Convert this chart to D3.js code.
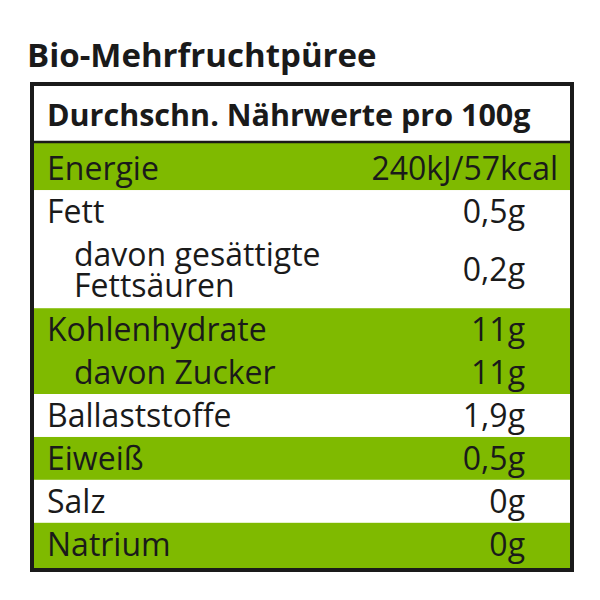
<!DOCTYPE html>
<meta charset="utf-8">
<script src="https://unpkg.com/d3@7/dist/d3.min.js"></script>
<body style="margin:0;background:#fff">
<script>
const title = 'Bio-Mehrfruchtpüree';
const header = 'Durchschn. Nährwerte pro 100g';
// each row: label lines, value, indent, green fill
const labels = [['Energie'], ['Fett'], ['davon gesättigte', 'Fettsäuren'], ['Kohlenhydrate'], ['davon Zucker'], ['Ballaststoffe'], ['Eiweiß'], ['Salz'], ['Natrium']];
const values = ['240kJ/57kcal', '0,5g', '0,2g', '11g', '11g', '1,9g', '0,5g', '0g', '0g'];
const indents = [0, 0, 1, 0, 1, 0, 0, 0, 0];
const groups = [0, 1, 1, 2, 2, 3, 4, 5, 6];
const green = [true, false, false, true, true, false, true, false, true];

const W = 600, H = 600;
const svg = d3.select('body').append('svg').attr('width', W).attr('height', H)
  .style('font-family', 'Open Sans, Noto Sans, sans-serif');

const boxL = 32, boxR = 572, boxT = 84, headBottom = 143, boxB = 570;

// cumulative line units
const units = labels.map(l => l.length === 2 ? 1.75 : 1);
const starts = [];
units.reduce((a, u, i) => (starts[i] = a, a + u), 0);
const total = d3.sum(units) + 0.2;
const y = d3.scaleLinear().domain([0, total]).range([headBottom, boxB]);

svg.append('text').attr('x', 27).attr('y', 67).text(title)
  .attr('font-size', 33).attr('font-weight', 700).attr('fill', '#1a1a1a');

// group backgrounds
const gIdx = d3.groups(d3.range(labels.length), i => groups[i]);
gIdx.forEach(([g, idx], k) => {
  const i0 = idx[0], i1 = idx[idx.length - 1];
  const y0 = k === 0 ? headBottom : y(starts[i0] + 0.1);
  const y1 = k === gIdx.length - 1 ? boxB : y(starts[i1] + units[i1] + 0.1);
  svg.append('rect').attr('x', boxL).attr('width', boxR - boxL)
    .attr('y', y0).attr('height', y1 - y0)
    .attr('fill', green[i0] ? '#7fba00' : '#fff');
});

svg.append('text').attr('x', 47).attr('y', 126).text(header)
  .attr('font-size', 30.5).attr('font-weight', 700).attr('fill', '#1a1a1a');

const rows = svg.selectAll('g.row').data(labels).join('g').attr('class', 'row');
rows.each(function (l, i) {
  const g = d3.select(this);
  const base = y(starts[i]) + 37;
  const x = indents[i] ? 74 : 47;
  l.forEach((s, j) => g.append('text').attr('x', x).attr('y', base + j * 31).text(s)
    .attr('font-size', 32).attr('fill', '#1a1a1a'));
  g.append('text').attr('x', i === 0 ? 558 : 525)
    .attr('y', base + (l.length - 1) * 15.5).attr('text-anchor', 'end')
    .text(values[i]).attr('font-size', 32).attr('fill', '#1a1a1a');
});

svg.append('line').attr('x1', boxL).attr('x2', boxR).attr('y1', headBottom - 1).attr('y2', headBottom - 1)
  .attr('stroke', '#1a1a1a').attr('stroke-width', 2.5);
svg.append('rect').attr('x', boxL).attr('y', boxT).attr('width', boxR - boxL).attr('height', boxB - boxT)
  .attr('fill', 'none').attr('stroke', '#1a1a1a').attr('stroke-width', 4);
</script>
